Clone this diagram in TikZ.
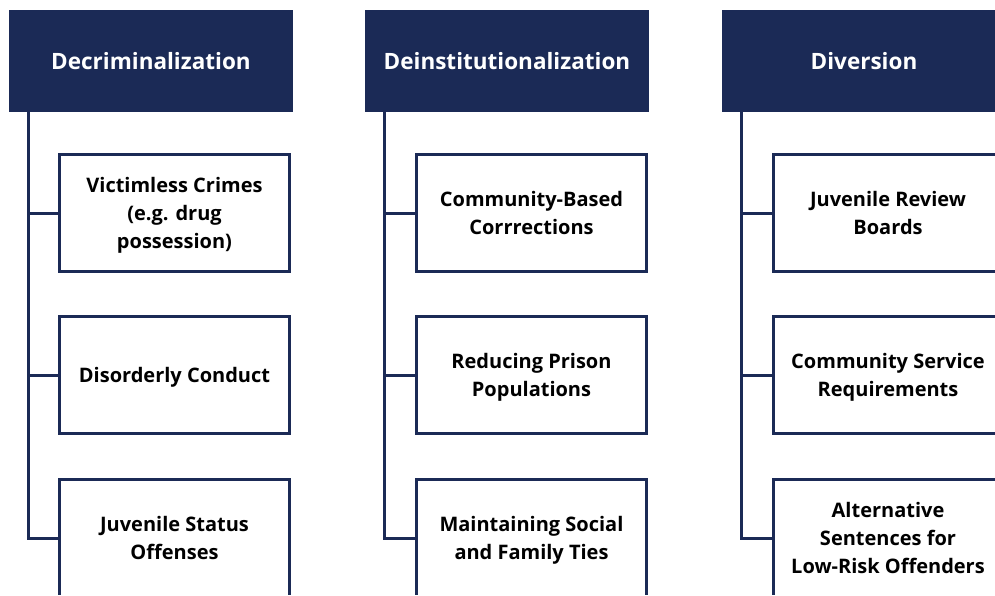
\documentclass[tikz,border=0pt]{standalone}
\usepackage{fontspec}
\setmainfont{Open Sans}
\usetikzlibrary{positioning,calc}
\definecolor{navy}{HTML}{1B2A56}

\begin{document}
\begin{tikzpicture}[x=1pt,y=-1pt,
  header/.style={fill=navy, text=white, inner sep=0pt,
    minimum width=284pt, minimum height=102pt,
    font=\bfseries\fontsize{22.5}{27}\selectfont},
  item/.style={draw=navy, line width=3pt, fill=white, inner sep=0pt,
    minimum width=230pt, minimum height=117pt, align=center,
    text depth=0pt, font=\bfseries\fontsize{20}{28}\selectfont},
  link/.style={navy, line width=3pt}]
  \useasboundingbox (0,0) rectangle (995,595);
  \clip (0,0) rectangle (995,594);

  % Decriminalization
  \node[header] (hd1) at (151,61) {Decriminalization};
  \coordinate (tr1) at (28,112);
  \node[item] (it1a) at (174.5,213) {Victimless Crimes\\(e.g. drug\\possession)};
  \node[item] (it1b) at (174.5,375) {Disorderly Conduct};
  \node[item] (it1c) at (174.5,538) {Juvenile Status\\Offenses};
  \foreach \n in {it1a,it1b,it1c}
    \draw[link] (tr1) |- (\n.west);

  % Deinstitutionalization
  \node[header] (hd2) at (507,61) {Deinstitutionalization};
  \coordinate (tr2) at (384,112);
  \node[item] (it2a) at (531.5,213) {Community-Based\\Corrrections};
  \node[item] (it2b) at (531.5,375) {Reducing Prison\\Populations};
  \node[item] (it2c) at (531.5,538) {Maintaining Social\\and Family Ties};
  \foreach \n in {it2a,it2b,it2c}
    \draw[link] (tr2) |- (\n.west);

  % Diversion
  \node[header] (hd3) at (864,61) {Diversion};
  \coordinate (tr3) at (741,112);
  \node[item] (it3a) at (888,213) {Juvenile Review\\Boards};
  \node[item] (it3b) at (888,375) {Community Service\\Requirements};
  \node[item] (it3c) at (888,538) {Alternative\\Sentences for\\Low-Risk Offenders};
  \foreach \n in {it3a,it3b,it3c}
    \draw[link] (tr3) |- (\n.west);
\end{tikzpicture}
\end{document}
